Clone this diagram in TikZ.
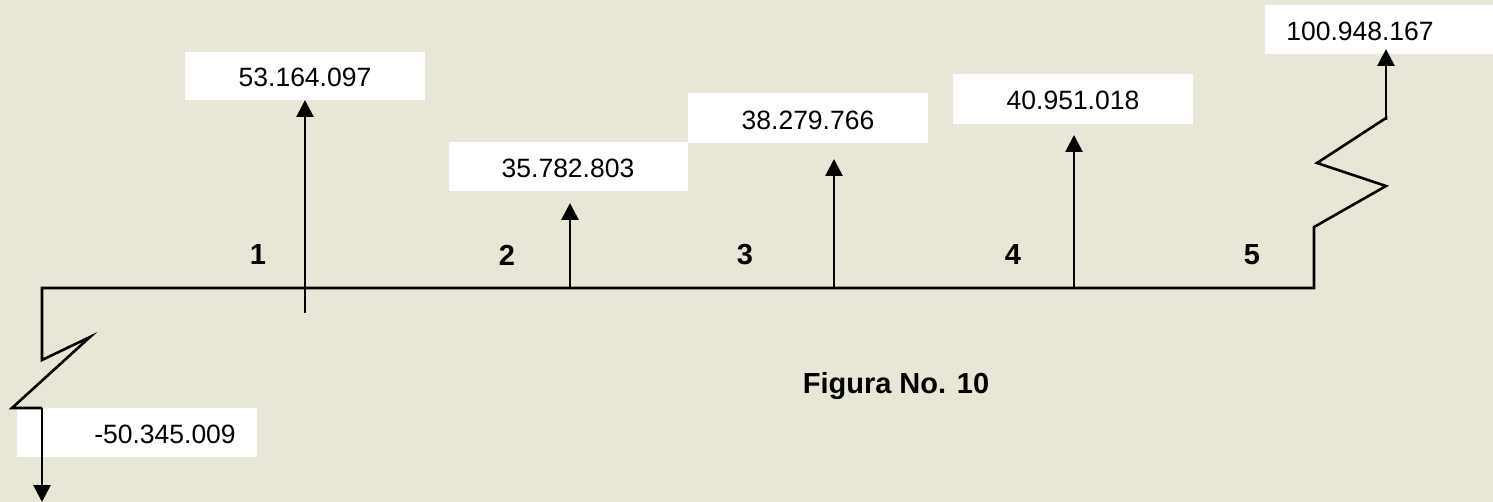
\documentclass[tikz,border=0pt]{standalone}
\usepackage{fontspec}
\setmainfont{Liberation Sans}
\usetikzlibrary{arrows.meta}
\definecolor{paper}{RGB}{232,230,214}
\tikzset{
  flow/.style={line width=2.8pt, -{Triangle[width=17pt,length=17pt]}},
  axisline/.style={line width=2.6pt, line join=miter},
  valtext/.style={font=\fontsize{26.5}{26.5}\selectfont, inner sep=0pt},
  period/.style={font=\bfseries\fontsize{29}{29}\selectfont, inner sep=0pt}
}
\begin{document}
\begin{tikzpicture}[x=1pt,y=-1pt]
  % canvas
  \fill[paper] (0,0) rectangle (1493,502);
  \useasboundingbox (0,0) rectangle (1493,502);

  % value boxes
  \fill[white] (185,52) rectangle (425,100);
  \fill[white] (449,142) rectangle (688,191);
  \fill[white] (688,93) rectangle (928,143);
  \fill[white] (953,74) rectangle (1193,124);
  \fill[white] (1265,5) rectangle (1493,54);
  \fill[white] (17,408) rectangle (257,457);

  \node[valtext] (v1) at (305,77) {53.164.097};
  \node[valtext] (v2) at (568,168) {35.782.803};
  \node[valtext] (v3) at (808,120) {38.279.766};
  \node[valtext] (v4) at (1073,100) {40.951.018};
  \node[valtext] (v5) at (1360,31) {100.948.167};
  \node[valtext] (v0) at (165,434) {-50.345.009};

  % time axis with break marks at both ends
  \coordinate (a0) at (42,288);
  \coordinate (a5) at (1314,288);
  \draw[axisline] (42,408) -- (12,408) -- (90,337) -- (42,360) -- (a0) -- (a5)
        -- (1314,227) -- (1386,186) -- (1317,163) -- (1386,118) -- (1386,120);

  % cash flow arrows
  \coordinate (b1) at (305,313); \coordinate (t1) at (305,100);
  \coordinate (b2) at (570,288); \coordinate (t2) at (570,203);
  \coordinate (b3) at (834,288); \coordinate (t3) at (834,159);
  \coordinate (b4) at (1074,288); \coordinate (t4) at (1074,135);
  \coordinate (b5) at (1386,118); \coordinate (t5) at (1386,49);
  \coordinate (b0) at (42,408); \coordinate (t0) at (42,502);
  \draw[flow] (b1) -- (t1);
  \draw[flow] (b2) -- (t2);
  \draw[flow] (b3) -- (t3);
  \draw[flow] (b4) -- (t4);
  \draw[flow] (b5) -- (t5);
  \draw[flow] (b0) -- (t0);

  % period labels
  \node[period] (p1) at (258,255) {1};
  \node[period] (p2) at (507,255) {2};
  \node[period] (p3) at (745,255) {3};
  \node[period] (p4) at (1013,255) {4};
  \node[period] (p5) at (1252,255) {5};

  \node[period] (fig) at (896,386) {Figura No. 10};
\end{tikzpicture}
\end{document}
